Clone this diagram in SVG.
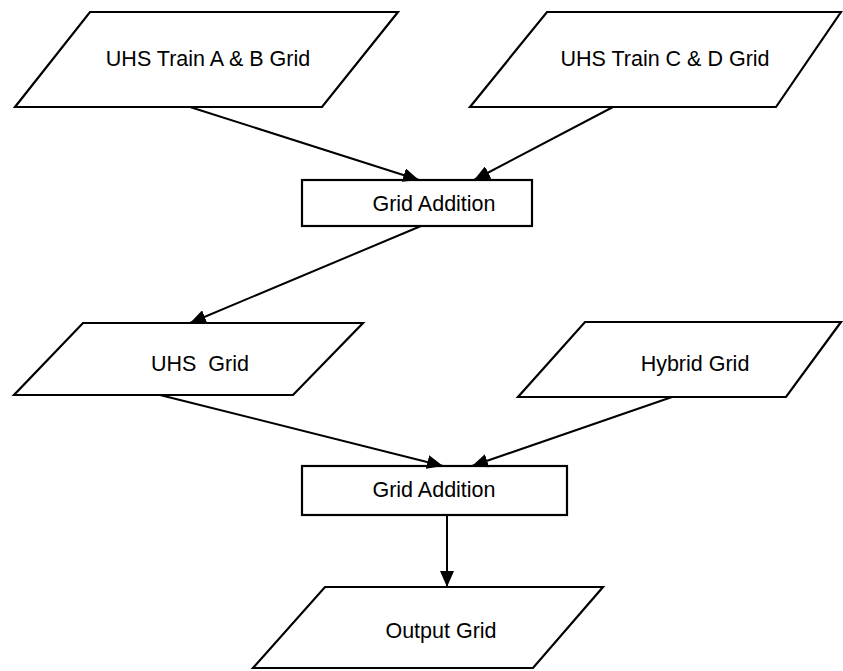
<svg xmlns="http://www.w3.org/2000/svg" width="843" height="671" viewBox="0 0 843 671">
<style>
.shape{fill:#fff;stroke:#000;stroke-width:2.2;stroke-linejoin:miter}
.lbl{font-family:"Liberation Sans",Arial,sans-serif;font-size:21.5px;fill:#000;text-anchor:middle}
.conn{stroke:#000;stroke-width:2;fill:none}
</style>
<defs>
<marker id="arr" markerUnits="userSpaceOnUse" markerWidth="16" markerHeight="14" viewBox="0 0 16 14" refX="16" refY="7" orient="auto">
<path d="M0,0 L16,7 L0,14 Z" fill="#000"/>
</marker>
</defs>
<rect width="843" height="671" fill="#fff"/>
<g id="n1"><polygon class="shape" points="90,12 398,12 322,107 15,107"/><text class="lbl" x="208" y="66">UHS Train A &amp; B Grid</text></g>
<g id="n2"><polygon class="shape" points="547,12 841,12 776,107 470,107"/><text class="lbl" x="665" y="66">UHS Train C &amp; D Grid</text></g>
<g id="n3"><rect class="shape" x="302" y="180" width="230" height="46"/><text class="lbl" x="434" y="211">Grid Addition</text></g>
<g id="n4"><polygon class="shape" points="83,323 363,323 293,395 14,395"/><text class="lbl" x="200" y="371" xml:space="preserve">UHS  Grid</text></g>
<g id="n5"><polygon class="shape" points="585,322 841,322 786,397 518,397"/><text class="lbl" x="695" y="371">Hybrid Grid</text></g>
<g id="n6"><rect class="shape" x="302" y="466" width="265" height="49"/><text class="lbl" x="434" y="497">Grid Addition</text></g>
<g id="n7"><polygon class="shape" points="325,587 603,587 533,668 253,668"/><text class="lbl" x="441" y="638">Output Grid</text></g>
<g id="connectors">
<line class="conn" x1="190" y1="107" x2="419" y2="180" marker-end="url(#arr)"/>
<line class="conn" x1="613" y1="107" x2="474" y2="180" marker-end="url(#arr)"/>
<line class="conn" x1="421" y1="226" x2="190" y2="323" marker-end="url(#arr)"/>
<line class="conn" x1="160" y1="395" x2="443" y2="466" marker-end="url(#arr)"/>
<line class="conn" x1="672" y1="397" x2="472" y2="466" marker-end="url(#arr)"/>
<line class="conn" x1="447" y1="515" x2="447" y2="587" marker-end="url(#arr)"/>
</g>
</svg>
